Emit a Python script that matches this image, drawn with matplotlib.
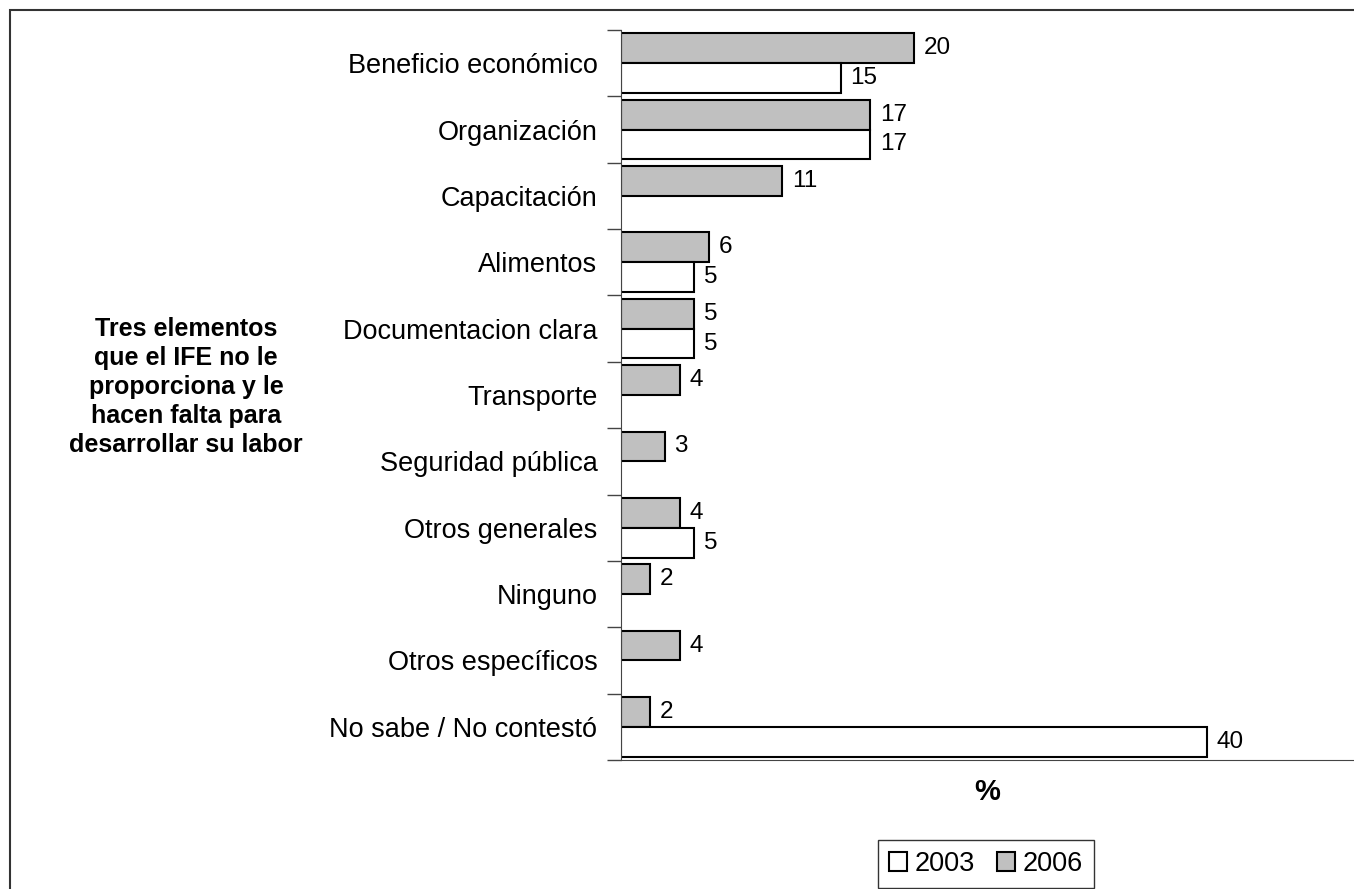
import numpy as np
import matplotlib.pyplot as plt
from matplotlib.patches import Rectangle

plt.rcParams['font.family'] = ['Liberation Sans', 'DejaVu Sans']

categorias = ["Beneficio económico", "Organización", "Capacitación", "Alimentos",
              "Documentacion clara", "Transporte", "Seguridad pública",
              "Otros generales", "Ninguno", "Otros específicos", "No sabe / No contestó"]
v2006 = [20, 17, 11, 6, 5, 4, 3, 4, 2, 4, 2]
v2003 = [15, 17, None, 5, 5, None, None, 5, None, None, 40]

titulo_eje = "Tres elementos\nque el IFE no le\nproporciona y le\nhacen falta para\ndesarrollar su labor"

fig = plt.figure(figsize=(13.54, 8.89), dpi=100)
ax = fig.add_axes([621 / 1354, 1 - 760 / 889, 1 - 621 / 1354, 730 / 889])

y = np.arange(len(categorias))
h = 0.45
ax.barh(y - h / 2, v2006, height=h, color="#c0c0c0", edgecolor="black", linewidth=1.5, label="2006")
y03 = [yy + h / 2 for yy, v in zip(y, v2003) if v is not None]
x03 = [v for v in v2003 if v is not None]
ax.barh(y03, x03, height=h, color="white", edgecolor="black", linewidth=1.5, label="2003")

# etiquetas de valores
for yy, v in zip(y, v2006):
    ax.text(v + 0.65, yy - h / 2, str(v), va="center", ha="left", fontsize=17.5)
for yy, v in zip(y03, x03):
    ax.text(v + 0.65, yy, str(v), va="center", ha="left", fontsize=17.5)

ax.set_xlim(0, 50)
ax.set_ylim(len(categorias) - 0.5, -0.5)
ax.set_yticks(np.arange(len(categorias) + 1) - 0.5)
ax.set_yticklabels([])
ax.set_yticks(y, minor=True)
ax.set_yticklabels(categorias, minor=True, fontsize=19.5)
ax.tick_params(axis="y", which="major", length=10, width=1, color="#444444")
ax.tick_params(axis="y", which="minor", length=0, pad=17)
ax.set_xticks([])
for s in ["top", "right"]:
    ax.spines[s].set_visible(False)
ax.spines["left"].set_color("#444444")
ax.spines["bottom"].set_color("#444444")

fig.text(186 / 1354, 1 - 387 / 889, titulo_eje, ha="center", va="center",
         fontsize=18, fontweight="bold", linespacing=1.26)
fig.text(987 / 1354, 1 - 792 / 889, "%", ha="center", va="center",
         fontsize=21, fontweight="bold")

handles, labels = ax.get_legend_handles_labels()
leg = fig.legend(handles[::-1], labels[::-1], loc="center", ncol=2,
                 bbox_to_anchor=(986 / 1354, 1 - 864 / 889), fontsize=19.5,
                 frameon=True, fancybox=False, edgecolor="black",
                 handlelength=0.65, handleheight=0.65, handletextpad=0.3,
                 columnspacing=0.8, borderpad=0.4)
leg.get_frame().set_linewidth(1)

# marco de la figura
fig.patches.append(Rectangle((10 / 1354, -0.05), 1.1, 1 - 10 / 889 + 0.05,
                             transform=fig.transFigure, fill=False,
                             edgecolor="#333333", linewidth=1.5))

fig.savefig("out.png", dpi=100)
